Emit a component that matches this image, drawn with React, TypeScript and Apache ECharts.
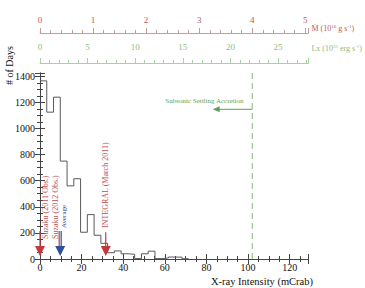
import React, { useEffect, useRef } from 'react';
import * as echarts from 'echarts';

// ---- data ----
const binEdges = [0, 3.25, 6.5, 9.75, 13, 16.25, 19.5, 22.75, 26, 29.25, 32.5, 35.75, 39, 42.25, 45.5, 48.75, 52, 55.25, 58.5, 61.75, 65, 68.25, 71.5];
const dayCounts = [1365, 1125, 1240, 750, 560, 615, 205, 340, 182, 120, 48, 62, 40, 36, 3, 40, 60, 3, 8, 15, 14, 2];

const xRange = [0, 129];
const yRange = [0, 1425];
const mdotRange = [0, 5.06];
const lxRange = [0, 28.2];

const markerX = [0, 9.7, 31.6];
const markerLabel = ['Suzaku (2011 Obs.)', 'Suzaku (2012 Obs.)', 'INTEGRAL (March 2011)'];
const markerShaftTop = [215, 215, 205];
const markerLabelBase = [153, 153, 237];
const averageLabel = 'Average';
const averageLabelBase = 237;

const settlingLimit = 102;
const settlingArrowTo = 83;
const settlingArrowLevel = 1147;
const settlingLabel = 'Subsonic Settling Accretion';
const settlingLabelPos = [79, 1213];

const SERIF = '"Liberation Serif", "DejaVu Serif", serif';
const RED = '#c4393c';
const TEXT_RED = '#c0504d';
const BLUE = '#2f4f9c';
const GREEN = '#5e9e56';
const FRAME = '#444';

export default function App() {
  const ref = useRef<HTMLDivElement>(null);
  useEffect(() => {
    if (!ref.current) return;
    const chart = echarts.init(ref.current, null, { renderer: 'svg' });

    const histData: number[][] = dayCounts.map((c, i) => [binEdges[i], c]);
    histData.push([binEdges[binEdges.length - 1], 0]);

    const intOnly = (step: number) => (v: number) =>
      Math.abs(v / step - Math.round(v / step)) < 1e-6 ? String(v) : '';

    const frameLine = { show: true, lineStyle: { color: FRAME, width: 1 } };
    const noLine = { show: false };

    const mainX = (position: string, labels: boolean) => ({
      type: 'value', position, min: xRange[0], max: xRange[1], interval: 20,
      axisLine: frameLine,
      axisTick: { show: true, inside: true, length: 5, lineStyle: { color: FRAME } },
      splitLine: { show: false },
      axisLabel: labels
        ? { formatter: intOnly(20), color: '#111', fontSize: 10, fontFamily: SERIF, margin: 3 }
        : { show: false },
    });
    const minorX = (position: string) => ({
      type: 'value', position, min: xRange[0], max: xRange[1], interval: 5,
      axisLine: noLine,
      axisTick: { show: true, inside: true, length: 3, lineStyle: { color: FRAME } },
      splitLine: { show: false },
      axisLabel: { show: false },
    });
    const mainY = (position: string, labels: boolean) => ({
      type: 'value', position, min: yRange[0], max: yRange[1], interval: 200,
      axisLine: frameLine,
      axisTick: { show: true, inside: true, length: 5, lineStyle: { color: FRAME } },
      splitLine: { show: false },
      axisLabel: labels
        ? { formatter: intOnly(200), color: '#111', fontSize: 10, fontFamily: SERIF, margin: 5 }
        : { show: false },
    });
    const minorY = (position: string) => ({
      type: 'value', position, min: yRange[0], max: yRange[1], interval: 50,
      axisLine: noLine,
      axisTick: { show: true, inside: true, length: 3, lineStyle: { color: FRAME } },
      splitLine: { show: false },
      axisLabel: { show: false },
    });
    const topAxis = (range: number[], step: number, offset: number, lineColor: string, labelColor: string, margin: number, name: string, padBottom: number) => ({
      type: 'value', position: 'top', offset, min: range[0], max: range[1], interval: step,
      axisLine: { show: true, lineStyle: { color: lineColor, width: 1 } },
      axisTick: { show: true, length: 5, lineStyle: { color: lineColor } },
      splitLine: { show: false },
      axisLabel: { formatter: intOnly(step), color: labelColor, fontSize: 9, fontFamily: SERIF, margin },
      name,
      nameLocation: 'end', nameGap: 3,
      nameTextStyle: {
        verticalAlign: 'bottom', padding: [0, 0, padBottom, 0],
        rich: {
          a: { fontSize: 8, color: labelColor, fontFamily: SERIF },
          s: { fontSize: 5, color: labelColor, fontFamily: SERIF, verticalAlign: 'top' },
        },
      },
    });
    const topMinor = (range: number[], step: number, offset: number, lineColor: string) => ({
      type: 'value', position: 'top', offset, min: range[0], max: range[1], interval: step,
      axisLine: noLine,
      axisTick: { show: true, length: 3, lineStyle: { color: lineColor } },
      splitLine: { show: false },
      axisLabel: { show: false },
    });

    const option: any = {
      animation: false,
      backgroundColor: '#fff',
      textStyle: { fontFamily: SERIF },
      grid: { left: 40, right: 52, top: 73, bottom: 29, containLabel: false },
      xAxis: [
        mainX('bottom', true),
        mainX('top', false),
        minorX('bottom'),
        minorX('top'),
        topAxis(mdotRange, 1, 40, '#c99a9a', '#b85a5a', 9, '{a|Ṁ (10}{s|16}{a| g s}{s|-1}{a|)}', 1),
        topMinor(mdotRange, 0.2, 40, '#c99a9a'),
        topAxis(lxRange, 5, 10, '#a9d0a5', '#8bbb86', 12, '{a|Lx (10}{s|35}{a| erg s}{s|-1}{a|)}', 11),
        topMinor(lxRange, 1, 10, '#a9d0a5'),
      ],
      yAxis: [
        mainY('left', true),
        mainY('right', false),
        minorY('left'),
        minorY('right'),
      ],
      graphic: [
        {
          type: 'text', x: 9, y: 85, rotation: Math.PI / 2,
          style: { text: '# of Days', font: `10px ${SERIF}`, fill: '#111', align: 'left', verticalAlign: 'middle' },
        },
        {
          type: 'text', x: 313, y: 281,
          style: { text: 'X-ray Intensity (mCrab)', font: `10.5px ${SERIF}`, fill: '#111', align: 'right', verticalAlign: 'middle' },
        },
      ],
      series: [
        {
          type: 'line', xAxisIndex: 0, yAxisIndex: 0, step: 'end', symbol: 'none',
          lineStyle: { color: '#5a5a5a', width: 1 },
          data: histData,
          silent: true,
        },
        {
          type: 'custom', xAxisIndex: 0, yAxisIndex: 0, silent: true,
          data: markerX.map((x, i) => [x, markerShaftTop[i], markerLabelBase[i]]),
          renderItem: (params: any, api: any) => {
            const i = params.dataIndex;
            const x = api.value(0);
            const top = api.coord([x, api.value(1)]);
            const base = api.coord([x, 0]);
            const lab = api.coord([x, api.value(2)]);
            const tipY = base[1] - 3;
            const headTop = tipY - 10;
            const hw = 5;
            const px = top[0];
            const children: any[] = [];
            if (i === 1) {
              children.push({ type: 'line', shape: { x1: px - 1, y1: top[1], x2: px - 1, y2: headTop }, style: { stroke: RED, lineWidth: 1.2 } });
              children.push({ type: 'line', shape: { x1: px + 1, y1: top[1], x2: px + 1, y2: headTop }, style: { stroke: BLUE, lineWidth: 1.2 } });
            } else {
              children.push({ type: 'line', shape: { x1: px, y1: top[1], x2: px, y2: headTop }, style: { stroke: RED, lineWidth: 1.2 } });
            }
            children.push({
              type: 'polygon',
              shape: { points: [[px - hw, headTop], [px + hw, headTop], [px, tipY]] },
              style: { fill: i === 1 ? BLUE : RED },
            });
            const dx = i === 0 ? 5 : i === 1 ? -4.5 : 0;
            children.push({
              type: 'text', x: px + dx, y: lab[1], rotation: Math.PI / 2,
              style: { text: markerLabel[i], fill: TEXT_RED, font: `8px ${SERIF}`, align: 'left', verticalAlign: 'middle' },
            });
            if (i === 1) {
              const ab = api.coord([x, averageLabelBase]);
              children.push({
                type: 'text', x: px + 3.5, y: ab[1], rotation: Math.PI / 2,
                style: { text: averageLabel, fill: BLUE, font: `7px ${SERIF}`, align: 'left', verticalAlign: 'middle' },
              });
            }
            return { type: 'group', children };
          },
        },
        {
          type: 'custom', xAxisIndex: 0, yAxisIndex: 0, silent: true,
          data: [[settlingLimit, settlingArrowLevel, settlingArrowTo, settlingLabelPos[0], settlingLabelPos[1]]],
          renderItem: (params: any, api: any) => {
            const a = api.coord([api.value(0), api.value(1)]);
            const b = api.coord([api.value(2), api.value(1)]);
            const t = api.coord([api.value(3), api.value(4)]);
            const lo = api.coord([api.value(0), yRange[0]]);
            const hi = api.coord([api.value(0), yRange[1]]);
            return {
              type: 'group',
              children: [
                { type: 'line', shape: { x1: lo[0], y1: lo[1], x2: hi[0], y2: hi[1] }, style: { stroke: '#86bb7e', lineWidth: 1, lineDash: [6, 4] } },
                { type: 'line', shape: { x1: a[0], y1: a[1], x2: b[0] + 4, y2: b[1] }, style: { stroke: GREEN, lineWidth: 1 } },
                { type: 'polygon', shape: { points: [[b[0], b[1]], [b[0] + 7, b[1] - 3], [b[0] + 7, b[1] + 3]] }, style: { fill: GREEN } },
                { type: 'text', x: t[0], y: t[1], style: { text: settlingLabel, fill: GREEN, font: `7px ${SERIF}`, align: 'center', verticalAlign: 'middle' } },
              ],
            };
          },
        },
      ],
    };
    chart.setOption(option);
    return () => chart.dispose();
  }, []);
  return <div ref={ref} style={{ position: 'fixed', left: 0, top: 0, width: 365, height: 288 }} />;
}
